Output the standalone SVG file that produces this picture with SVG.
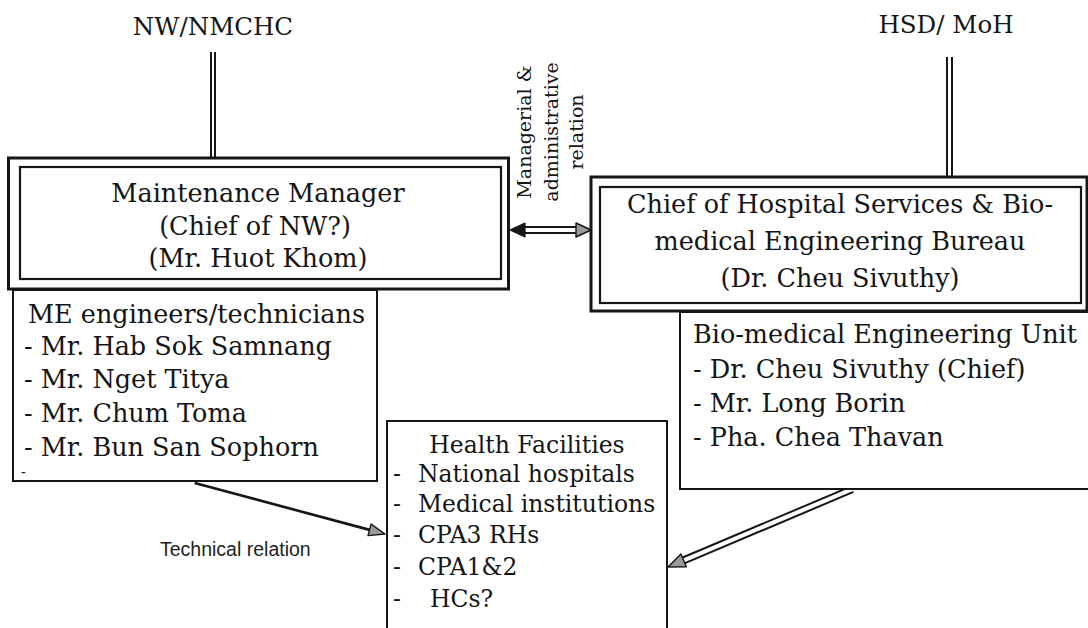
<svg xmlns="http://www.w3.org/2000/svg" width="1088" height="628" viewBox="0 0 1088 628">
  <style>
    .t { font-family: "DejaVu Serif", "Liberation Serif", serif; font-size: 25.5px; fill: #151515; }
    .ttl { font-family: "DejaVu Serif", "Liberation Serif", serif; font-size: 24.5px; fill: #151515; }
    .sm { font-family: "DejaVu Serif", "Liberation Serif", serif; font-size: 23.5px; fill: #151515; }
    .rot { font-family: "DejaVu Serif", "Liberation Serif", serif; font-size: 19px; fill: #151515; }
    .sans { font-family: "Liberation Sans", Arial, sans-serif; font-size: 19.5px; fill: #222; }
    .c { text-anchor: middle; }
    .frame-out { fill: none; stroke: #161616; stroke-width: 3; }
    .frame-in { fill: none; stroke: #161616; stroke-width: 2.2; }
    .box { fill: #fff; stroke: #161616; stroke-width: 2; }
    .ln { stroke: #161616; stroke-width: 2; fill: none; }
    .ln-thick { stroke: #161616; stroke-width: 2.6; fill: none; }
    .head-dark { fill: #161616; stroke: #161616; stroke-width: 1.2; stroke-linejoin: round; }
    .head-grey { fill: #9a9a9a; stroke: #161616; stroke-width: 1.4; stroke-linejoin: round; }
  </style>

  <rect width="1088" height="628" fill="#fff"/>

  <!-- Parent organisations -->
  <g id="nw-nmchc">
    <text class="ttl c" x="213" y="35">NW/NMCHC</text>
  </g>
  <g id="hsd-moh">
    <text class="ttl c" x="946" y="33">HSD/ MoH</text>
  </g>

  <!-- Connectors -->
  <g id="connectors">
    <!-- reporting lines (double) -->
    <line class="ln" x1="211" y1="52" x2="211" y2="158"/>
    <line class="ln" x1="215" y1="52" x2="215" y2="158"/>
    <line class="ln" x1="947" y1="57" x2="947" y2="177"/>
    <line class="ln" x1="952" y1="57" x2="952" y2="177"/>

    <!-- managerial & administrative relation (double, two-way) -->
    <g transform="translate(510,230)">
      <line class="ln" x1="13" y1="-3" x2="68" y2="-3"/>
      <line class="ln" x1="13" y1="3" x2="68" y2="3"/>
      <polygon class="head-dark" points="0,0 15,-7 15,7"/>
      <polygon class="head-grey" points="81,0 66,-7 66,7"/>
    </g>

    <!-- technical relation -->
    <g transform="translate(385,534) rotate(195)">
      <line class="ln-thick" x1="14" y1="0" x2="197" y2="0"/>
      <polygon class="head-grey" points="0,0 16,-6 16,6"/>
    </g>

    <!-- bio-medical unit to health facilities (double) -->
    <g transform="translate(668,567) rotate(-22.9)">
      <line class="ln" x1="14" y1="-3" x2="200" y2="-3"/>
      <line class="ln" x1="14" y1="3" x2="200" y2="3"/>
      <polygon class="head-grey" points="0,0 17,-7 17,7"/>
    </g>

    <text class="rot c" transform="translate(531,132) rotate(-90)">Managerial &amp;</text>
    <text class="rot c" transform="translate(558,132) rotate(-90)">administrative</text>
    <text class="rot c" transform="translate(583,132) rotate(-90)">relation</text>
    <text class="sans" x="160" y="556">Technical relation</text>
  </g>

  <!-- Maintenance manager -->
  <g id="maintenance-manager">
    <rect class="frame-out" x="8.5" y="158" width="500" height="131"/>
    <rect class="frame-in" x="20" y="167" width="481" height="112"/>
    <text class="t c" x="258" y="202">Maintenance Manager</text>
    <text class="t c" x="255" y="235">(Chief of NW?)</text>
    <text class="t c" x="258" y="267">(Mr. Huot Khom)</text>
  </g>

  <!-- ME engineers / technicians -->
  <g id="me-engineers">
    <rect class="box" x="13" y="290" width="364" height="191"/>
    <text class="t" x="28" y="323">ME engineers/technicians</text>
    <text class="t" x="24" y="355">- Mr. Hab Sok Samnang</text>
    <text class="t" x="24" y="388">- Mr. Nget Titya</text>
    <text class="t" x="24" y="422">- Mr. Chum Toma</text>
    <text class="t" x="24" y="456">- Mr. Bun San Sophorn</text>
    <text class="t" x="21" y="477" style="font-size:14px">-</text>
  </g>

  <!-- Chief of hospital services -->
  <g id="chief-hospital-services">
    <rect class="frame-out" x="591" y="177" width="496" height="134"/>
    <rect class="frame-in" x="600" y="187" width="481" height="116"/>
    <text class="t c" x="840" y="213">Chief of Hospital Services &amp; Bio-</text>
    <text class="t c" x="840" y="250">medical Engineering Bureau</text>
    <text class="t c" x="840" y="287">(Dr. Cheu Sivuthy)</text>
  </g>

  <!-- Bio-medical engineering unit -->
  <g id="biomedical-unit">
    <rect class="box" x="680" y="312" width="420" height="177"/>
    <text class="t" x="693" y="343">Bio-medical Engineering Unit</text>
    <text class="t" x="693" y="378">- Dr. Cheu Sivuthy (Chief)</text>
    <text class="t" x="693" y="412">- Mr. Long Borin</text>
    <text class="t" x="693" y="446">- Pha. Chea Thavan</text>
  </g>

  <!-- Health facilities -->
  <g id="health-facilities">
    <rect class="box" x="387" y="421" width="280" height="215"/>
    <text class="sm c" x="527" y="453">Health Facilities</text>
    <text class="sm" x="393" y="482">-</text><text class="sm" x="418" y="482">National hospitals</text>
    <text class="sm" x="393" y="512">-</text><text class="sm" x="418" y="512">Medical institutions</text>
    <text class="sm" x="393" y="543">-</text><text class="sm" x="418" y="543">CPA3 RHs</text>
    <text class="sm" x="393" y="575">-</text><text class="sm" x="418" y="575">CPA1&amp;2</text>
    <text class="sm" x="393" y="607">-</text><text class="sm" x="430" y="607">HCs?</text>
  </g>
</svg>
